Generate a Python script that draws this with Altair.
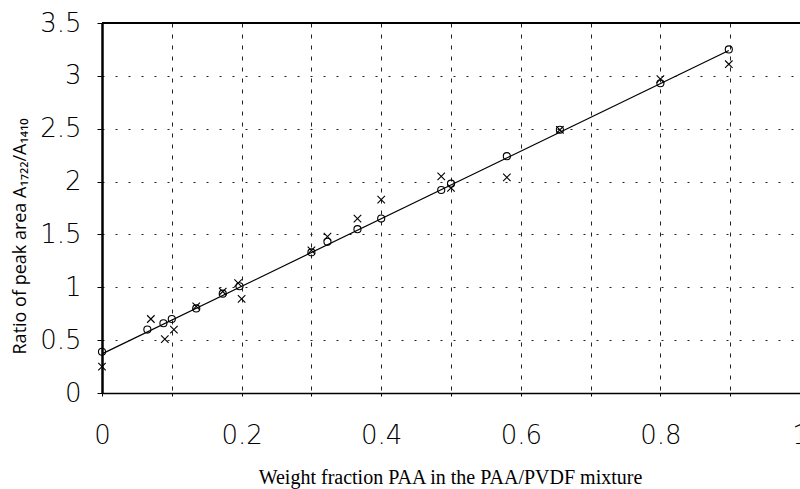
import altair as alt
import pandas as pd

# Circles (o)
circ_x = [0.0, 0.065, 0.088, 0.100, 0.135, 0.173, 0.197, 0.300, 0.323, 0.366, 0.400, 0.486, 0.500, 0.580, 0.656, 0.800, 0.898]
circ_y = [0.39, 0.60, 0.66, 0.70, 0.80, 0.94, 1.01, 1.33, 1.43, 1.55, 1.65, 1.92, 1.98, 2.24, 2.49, 2.93, 3.25]
# Crosses (x)
cross_x = [0.0, 0.070, 0.090, 0.103, 0.135, 0.173, 0.195, 0.200, 0.300, 0.323, 0.366, 0.400, 0.486, 0.500, 0.580, 0.656, 0.800, 0.898]
cross_y = [0.25, 0.70, 0.51, 0.60, 0.82, 0.96, 1.04, 0.89, 1.35, 1.48, 1.65, 1.83, 2.05, 1.94, 2.04, 2.49, 2.97, 3.11]
# Fitted line end points
fit_x = [0.0, 0.898]
fit_y = [0.37, 3.24]

x_ticks = [0.0, 0.1, 0.2, 0.3, 0.4, 0.5, 0.6, 0.7, 0.8, 0.9, 1.0]
y_ticks = [0.0, 0.5, 1.0, 1.5, 2.0, 2.5, 3.0, 3.5]

circ_df = pd.DataFrame({"x": circ_x, "y": circ_y})
cross_df = pd.DataFrame({"x": cross_x, "y": cross_y})
fit_df = pd.DataFrame({"x": fit_x, "y": fit_y})
top_df = pd.DataFrame({"x": [0.0], "x2": [1.0], "y": [3.5]})

label_font = "DejaVu Sans"

xscale = alt.Scale(domain=[0, 1], nice=False, zero=False)
yscale = alt.Scale(domain=[0, 3.5], nice=False, zero=False)

xaxis = alt.Axis(
    values=x_ticks,
    labelExpr="round(datum.value*10) % 2 == 0 ? format(datum.value, '~g') : ''",
    title="Weight fraction PAA in the PAA/PVDF mixture",
    titleFont="Liberation Serif", titleFontSize=20, titleFontWeight="normal",
    titleColor="#000", titleX=348, titleY=90, titleAlign="center",
    titleBaseline="alphabetic", titleAnchor=None,
    labelFont=label_font, labelFontSize=26, labelFontWeight=200,
    labelColor="#000", labelPadding=26, labelFlush=False, labelOverlap=False,
    tickSize=3, tickColor="#000", tickWidth=1,
    domainColor="#000", domainWidth=1.5,
    grid=True, gridColor="#222", gridDash=[4, 7], gridWidth=1,
)
yaxis = alt.Axis(
    values=y_ticks, format="~g",
    title="Ratio of peak area A₁₇₂₂/A₁₄₁₀",
    titleFont="Open Sans", titleFontSize=18, titleFontWeight="normal",
    titleColor="#000", titleX=-82, titleY=213, titleAlign="center",
    titleBaseline="middle", titleAngle=270,
    labelFont=label_font, labelFontSize=26, labelFontWeight=200,
    labelColor="#000", labelPadding=16, labelOverlap=False,
    tickSize=5, tickColor="#000", tickWidth=1,
    domainColor="#000", domainWidth=2.5,
    grid=True, gridColor="#222", gridDash=[2, 11], gridWidth=1,
)

base_x = alt.X("x:Q", scale=xscale, axis=xaxis)
base_y = alt.Y("y:Q", scale=yscale, axis=yaxis)

line = alt.Chart(fit_df).mark_line(color="#000", strokeWidth=1.2).encode(x=base_x, y=base_y)

circles = alt.Chart(circ_df).mark_point(
    shape="circle", filled=False, color="#000", size=50, strokeWidth=1.1, opacity=1
).encode(x=alt.X("x:Q", scale=xscale), y=alt.Y("y:Q", scale=yscale))

crosses = alt.Chart(cross_df).mark_point(
    shape="M-1,-1L1,1M-1,1L1,-1", filled=False, color="#000", size=56, strokeWidth=1.1, opacity=1
).encode(x=alt.X("x:Q", scale=xscale), y=alt.Y("y:Q", scale=yscale))

top = alt.Chart(top_df).mark_rule(color="#000", strokeWidth=2).encode(
    x=alt.X("x:Q", scale=xscale), x2="x2:Q", y=alt.Y("y:Q", scale=yscale)
)

chart = alt.layer(line, circles, crosses, top).properties(
    width=698, height=370,
    autosize=alt.AutoSizeParams(type="none"),
    padding={"left": 102, "top": 23, "right": 0, "bottom": 96},
    background="white",
).configure_view(stroke=None)

chart.save("out.html", embed_options={"renderer": "svg", "actions": False})
